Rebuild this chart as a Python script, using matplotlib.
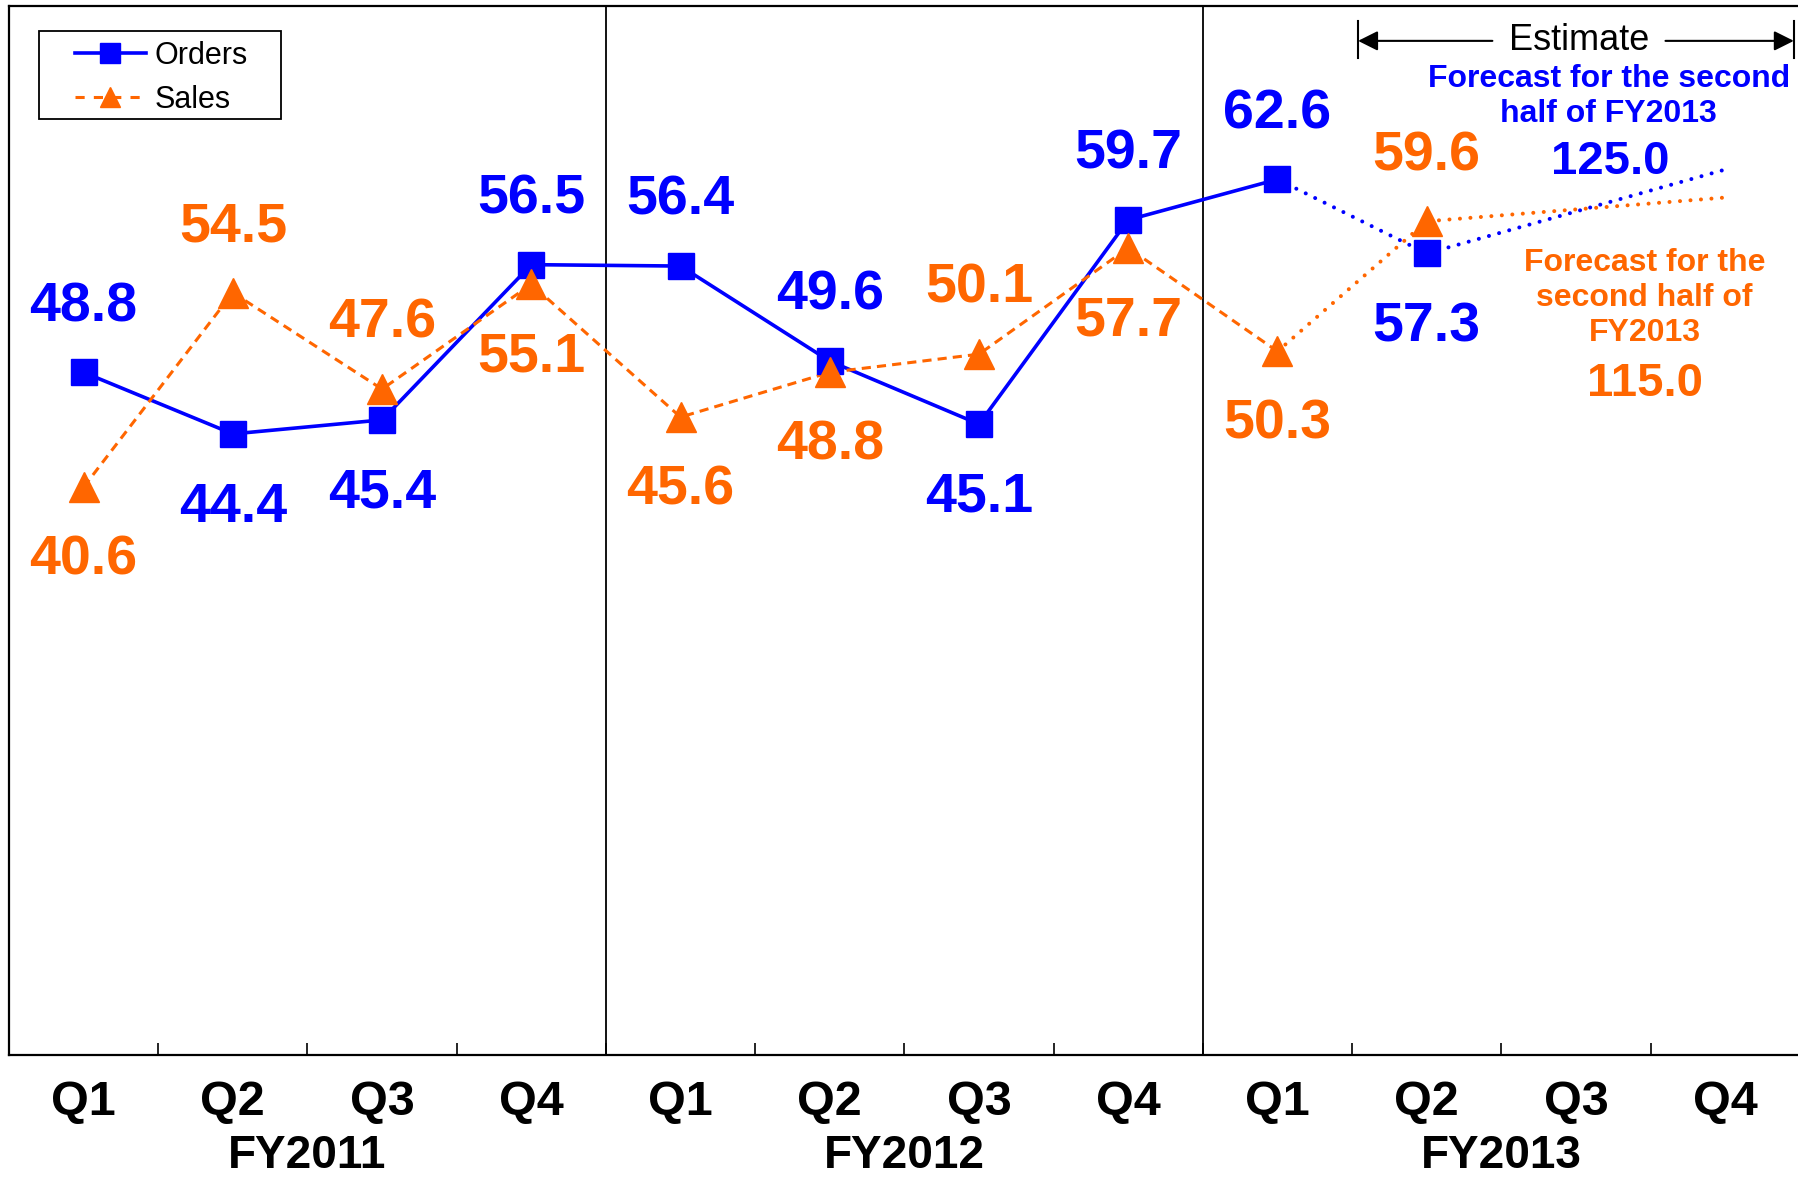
import matplotlib
matplotlib.use('Agg')
import matplotlib.pyplot as plt
from matplotlib.lines import Line2D
from matplotlib.patches import Rectangle
from matplotlib.transforms import blended_transform_factory

# ---------------- data ----------------
quarters = ['Q1', 'Q2', 'Q3', 'Q4'] * 3
years = ['FY2011', 'FY2012', 'FY2013']
orders = [48.8, 44.4, 45.4, 56.5, 56.4, 49.6, 45.1, 59.7, 62.6, 57.3]
sales = [40.6, 54.5, 47.6, 55.1, 45.6, 48.8, 50.1, 57.7, 50.3, 59.6]
orders_forecast_end = 63.3   # end of dotted forecast line (Q4 FY2013)
sales_forecast_end = 61.3
orders_h2_total = 125.0
sales_h2_total = 115.0
# label side: +1 above, -1 below
orders_label_side = [1, -1, -1, 1, 1, 1, -1, 1, 1, -1]
sales_label_side = [-1, 1, 1, -1, -1, -1, 1, -1, -1, 1]

BLUE = '#0000FF'
ORANGE = '#FF6600'
FONT = ['Liberation Sans', 'DejaVu Sans']
NARROW = ['Liberation Sans Narrow', 'Liberation Sans', 'DejaVu Sans']
plt.rcParams['font.family'] = FONT

fig = plt.figure(figsize=(17.98, 11.80), dpi=100)
ax = fig.add_axes([0.005, 0.106, 0.996, 0.889])
ax.set_xlim(-0.5, 11.5)
ax.set_ylim(0, 75)

n_actual = 9  # Q1 FY2011 .. Q1 FY2013 drawn solid/dashed
x_all = list(range(len(orders)))
x_fc = [8, 9, 11]

# actual lines
ax.plot(x_all[:n_actual], orders[:n_actual], color=BLUE, lw=2.6, zorder=3)
ax.plot(x_all[:n_actual], sales[:n_actual], color=ORANGE, lw=2.2,
        linestyle=(0, (3, 2)), zorder=3)
# forecast dotted lines
dot = (0, (0.01, 2.6))
ax.plot(x_fc, [orders[8], orders[9], orders_forecast_end], color=BLUE, lw=2.9,
        linestyle=dot, dash_capstyle='round', zorder=3)
ax.plot(x_fc, [sales[8], sales[9], sales_forecast_end], color=ORANGE, lw=2.9,
        linestyle=dot, dash_capstyle='round', zorder=3)
# markers
ax.plot(x_all, orders, linestyle='none', marker='s', ms=19, color=BLUE, zorder=4)
ax.plot(x_all, sales, linestyle='none', marker='^', ms=21, color=ORANGE, zorder=5)

# data labels
for x, v, s in zip(x_all, orders, orders_label_side):
    ax.annotate(f'{v:.1f}', (x, v), xytext=(0, 50 * s - 3), textcoords='offset points',
                ha='center', va='center', fontsize=40, fontweight='bold',
                color=BLUE, zorder=6)
for x, v, s in zip(x_all, sales, sales_label_side):
    ax.annotate(f'{v:.1f}', (x, v), xytext=(0, 50 * s - 3), textcoords='offset points',
                ha='center', va='center', fontsize=40, fontweight='bold',
                color=ORANGE, zorder=6)

# year separators
for xs in (3.5, 7.5):
    ax.axvline(xs, color='black', lw=1.3, zorder=2)

# axes styling
for sp in ('left', 'top', 'bottom'):
    ax.spines[sp].set_linewidth(1.6)
    ax.spines[sp].set_color('black')
ax.spines['right'].set_visible(False)
ax.set_yticks([])
ax.set_xticks(range(12))
ax.set_xticklabels(quarters, fontsize=35, fontweight='bold', family=NARROW)
ax.tick_params(axis='x', which='major', length=0, pad=18)
ax.set_xticks([i + 0.5 for i in range(11)], minor=True)
ax.tick_params(axis='x', which='minor', direction='in', length=9, width=1.2)

trans = blended_transform_factory(ax.transData, ax.transAxes)
for i, y in enumerate(years):
    ax.text(4 * i + 1.5, -0.096, y, transform=trans, ha='center', va='center',
            fontsize=33, fontweight='bold', family=NARROW)

# legend (manual frame)
ax.add_patch(Rectangle((0.0168, 0.8923), 0.1353, 0.0839, transform=ax.transAxes,
                       fill=True, facecolor='white', edgecolor='black', lw=1.3, zorder=7))
handles = [
    Line2D([], [], color=BLUE, lw=2.6, marker='s', ms=14),
    Line2D([], [], color=ORANGE, lw=2.2, linestyle=(0, (3, 3)), marker='^', ms=15),
]
leg = ax.legend(handles, ['Orders', 'Sales'], loc='upper left',
                bbox_to_anchor=(0.0366, 0.967), borderaxespad=0, borderpad=0,
                frameon=False, fontsize=22, handlelength=2.35, handletextpad=0.26,
                labelspacing=0.47)
leg.set_zorder(8)

# Estimate bracket
ax.text(10.02, 72.5, 'Estimate', ha='center', va='center', fontsize=26)
for xb in (8.54, 11.46):
    ax.plot([xb, xb], [71.3, 73.9], color='black', lw=1.5, clip_on=False)
ax.annotate('', xy=(8.54, 72.5), xytext=(9.44, 72.5),
            arrowprops=dict(arrowstyle='-|>', color='black', lw=1.5,
                            mutation_scale=30, shrinkA=0, shrinkB=0))
ax.annotate('', xy=(11.46, 72.5), xytext=(10.6, 72.5),
            arrowprops=dict(arrowstyle='-|>', color='black', lw=1.5,
                            mutation_scale=30, shrinkA=0, shrinkB=0), annotation_clip=False)

# forecast annotations
ax.text(10.22, 68.5, 'Forecast for the second\nhalf of FY2013', ha='center', va='center',
        fontsize=23, fontweight='bold', color=BLUE, linespacing=1.22)
ax.text(10.23, 63.85, f'{orders_h2_total:.1f}', ha='center', va='center',
        fontsize=34, fontweight='bold', color=BLUE)
ax.text(10.46, 54.1, 'Forecast for the\nsecond half of\nFY2013', ha='center', va='center',
        fontsize=23, fontweight='bold', color=ORANGE, linespacing=1.22)
ax.text(10.46, 48.0, f'{sales_h2_total:.1f}', ha='center', va='center',
        fontsize=34, fontweight='bold', color=ORANGE)

fig.savefig('out.png', dpi=100)
